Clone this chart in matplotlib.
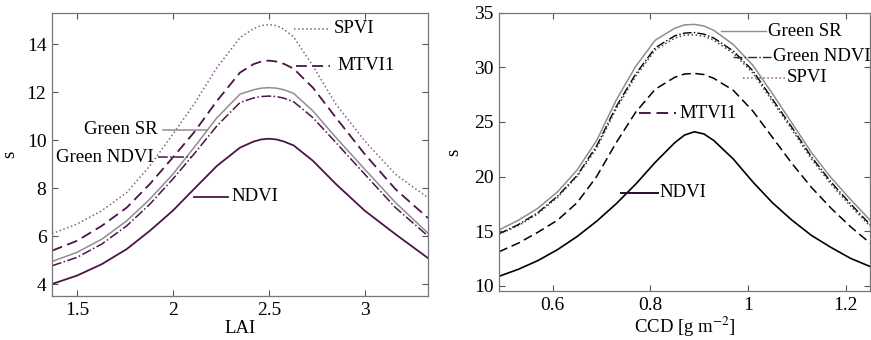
import numpy as np
import matplotlib.pyplot as plt

plt.rcParams['font.family'] = ['Liberation Serif', 'DejaVu Serif']
plt.rcParams['mathtext.fontset'] = 'stix'

# ---- left panel: LAI ----
lai = [1.37, 1.5, 1.63, 1.76, 1.88, 2.0, 2.11, 2.23, 2.35, 2.42, 2.46, 2.5, 2.54, 2.58, 2.63, 2.73, 2.85, 3.0, 3.16, 3.33]
lai_ndvi = [4.0, 4.35, 4.83, 5.46, 6.22, 7.06, 7.96, 8.93, 9.69, 9.94, 10.03, 10.06, 10.03, 9.94, 9.78, 9.14, 8.17, 7.06, 6.08, 5.08]
lai_spvi = [6.1, 6.5, 7.06, 7.82, 8.93, 10.25, 11.5, 13.03, 14.28, 14.65, 14.78, 14.82, 14.78, 14.62, 14.3, 13.1, 11.5, 9.97, 8.58, 7.6]
lai_mtvi1 = [5.39, 5.8, 6.43, 7.19, 8.17, 9.28, 10.32, 11.64, 12.82, 13.17, 13.28, 13.32, 13.28, 13.18, 12.98, 12.19, 10.94, 9.42, 7.96, 6.75]
lai_gsr = [4.94, 5.32, 5.87, 6.64, 7.54, 8.58, 9.69, 10.94, 11.92, 12.1, 12.17, 12.19, 12.17, 12.1, 11.95, 11.22, 10.11, 8.79, 7.4, 6.12]
lai_gndvi = [4.76, 5.11, 5.67, 6.43, 7.33, 8.38, 9.42, 10.6, 11.57, 11.76, 11.82, 11.84, 11.82, 11.75, 11.6, 10.94, 9.9, 8.58, 7.19, 6.0]

# ---- right panel: CCD ----
ccd = [0.49, 0.53, 0.57, 0.61, 0.65, 0.69, 0.73, 0.77, 0.81, 0.85, 0.87, 0.89, 0.91, 0.93, 0.97, 1.01, 1.05, 1.09, 1.13, 1.17, 1.21, 1.25]
ccd_ndvi = [10.85, 11.5, 12.3, 13.3, 14.5, 15.9, 17.5, 19.3, 21.3, 23.1, 23.8, 24.1, 23.9, 23.3, 21.6, 19.5, 17.6, 16.0, 14.6, 13.5, 12.5, 11.75]
ccd_mtvi1 = [13.1, 13.9, 14.9, 16.0, 17.6, 20.0, 23.1, 25.9, 28.0, 29.1, 29.4, 29.45, 29.35, 29.0, 27.9, 26.0, 23.6, 21.2, 19.0, 17.1, 15.4, 13.9]
ccd_gsr = [15.1, 16.0, 17.1, 18.6, 20.6, 23.3, 27.0, 30.1, 32.5, 33.6, 33.9, 33.95, 33.8, 33.4, 32.1, 30.2, 27.6, 24.9, 22.2, 19.9, 17.9, 16.0]
ccd_gndvi = [14.75, 15.6, 16.7, 18.2, 20.1, 22.8, 26.4, 29.4, 31.8, 32.9, 33.15, 33.2, 33.05, 32.7, 31.5, 29.7, 27.1, 24.5, 21.8, 19.5, 17.5, 15.6]
ccd_spvi = [14.7, 15.5, 16.6, 18.1, 20.0, 22.6, 26.2, 29.2, 31.6, 32.7, 32.95, 33.0, 32.85, 32.5, 31.3, 29.5, 26.9, 24.3, 21.6, 19.3, 17.3, 15.45]

purple = '#4c1448'
light_purple = '#8e5a8e'
gray = '#8e8e8e'
fs = 13.5

fig = plt.figure(figsize=(8.71, 3.40), dpi=100)
ax1 = fig.add_axes([0.0597, 0.1294, 0.4317, 0.832])
ax2 = fig.add_axes([0.5729, 0.144, 0.426, 0.818])

ax1.plot(lai, lai_spvi, ls=':', color=light_purple, lw=1.1)
ax1.plot(lai, lai_mtvi1, ls=(0, (6, 3)), color=purple, lw=1.3)
ax1.plot(lai, lai_gsr, ls='-', color=gray, lw=1.1)
ax1.plot(lai, lai_gndvi, ls='-.', color=purple, lw=1.1)
ax1.plot(lai, lai_ndvi, ls='-', color=purple, lw=1.3)

# inline labels (left)
ax1.plot([2.63, 2.82], [14.64, 14.64], ls=':', color=light_purple, lw=1.1)
ax1.text(2.84, 14.64, 'SPVI', va='center', ha='left', fontsize=fs)
ax1.plot([2.64, 2.82], [13.1, 13.1], ls=(0, (6, 3)), color=purple, lw=1.3)
ax1.text(2.86, 13.1, 'MTVI1', va='center', ha='left', fontsize=fs)
ax1.plot([1.95, 2.18], [10.43, 10.43], ls='-', color=gray, lw=1.1)
ax1.text(1.92, 10.43, 'Green SR', va='center', ha='right', fontsize=fs)
ax1.plot([1.92, 2.10], [9.29, 9.29], ls='-.', color=purple, lw=1.1)
ax1.text(1.9, 9.29, 'Green NDVI', va='center', ha='right', fontsize=fs)
ax1.plot([2.11, 2.29], [7.65, 7.65], ls='-', color=purple, lw=1.3)
ax1.text(2.305, 7.65, 'NDVI', va='center', ha='left', fontsize=fs)

ax1.set_xlim(1.37, 3.33)
ax1.set_ylim(3.5, 15.3)
ax1.set_xticks([1.5, 2, 2.5, 3])
ax1.set_xticklabels(['1.5', '2', '2.5', '3'])
ax1.set_yticks([4, 6, 8, 10, 12, 14])
ax1.set_xlabel('LAI', fontsize=fs, labelpad=1)
ax1.set_ylabel('s', fontsize=fs)
ax1.yaxis.set_label_coords(-0.09, 0.5)

ax2.plot(ccd, ccd_gsr, ls='-', color=gray, lw=1.1)
ax2.plot(ccd, ccd_gndvi, ls='-.', color='black', lw=1.0)
ax2.plot(ccd, ccd_spvi, ls=':', color='#444444', lw=1.1)
ax2.plot(ccd, ccd_mtvi1, ls=(0, (6, 3)), color='black', lw=1.1)
ax2.plot(ccd, ccd_ndvi, ls='-', color='black', lw=1.2)

# inline labels (right)
ax2.plot([0.945, 1.037], [33.3, 33.3], ls='-', color=gray, lw=1.0)
ax2.text(1.042, 33.3, 'Green SR', va='center', ha='left', fontsize=fs)
ax2.plot([0.969, 1.048], [31.0, 31.0], ls='-.', color=purple, lw=1.0)
ax2.text(1.051, 31.0, 'Green NDVI', va='center', ha='left', fontsize=fs)
ax2.plot([0.99, 1.078], [29.04, 29.04], ls=':', color=light_purple, lw=1.1)
ax2.text(1.08, 29.04, 'SPVI', va='center', ha='left', fontsize=fs)
ax2.plot([0.777, 0.853], [25.8, 25.8], ls=(0, (6, 3)), color=purple, lw=1.4)
ax2.text(0.859, 25.8, 'MTVI1', va='center', ha='left', fontsize=fs)
ax2.plot([0.74, 0.815], [18.5, 18.5], ls='-', color='#2a0a2a', lw=1.4)
ax2.text(0.818, 18.5, 'NDVI', va='center', ha='left', fontsize=fs)

ax2.set_xlim(0.49, 1.25)
ax2.set_ylim(9.5, 35)
ax2.set_xticks([0.6, 0.8, 1.0, 1.2])
ax2.set_xticklabels(['0.6', '0.8', '1', '1.2'])
ax2.set_yticks([10, 15, 20, 25, 30, 35])
ax2.set_xlabel('CCD [g m$^{-2}$]', fontsize=fs, labelpad=1)
ax2.set_ylabel('s', fontsize=fs)
ax2.yaxis.set_label_coords(-0.1, 0.5)

for ax in (ax1, ax2):
    ax.tick_params(direction='in', top=True, right=True, labelsize=14,
                   length=4, color='#555555', pad=4)
    for sp in ax.spines.values():
        sp.set_color('#777777')
        sp.set_linewidth(0.9)

fig.savefig('out.png', dpi=100)
